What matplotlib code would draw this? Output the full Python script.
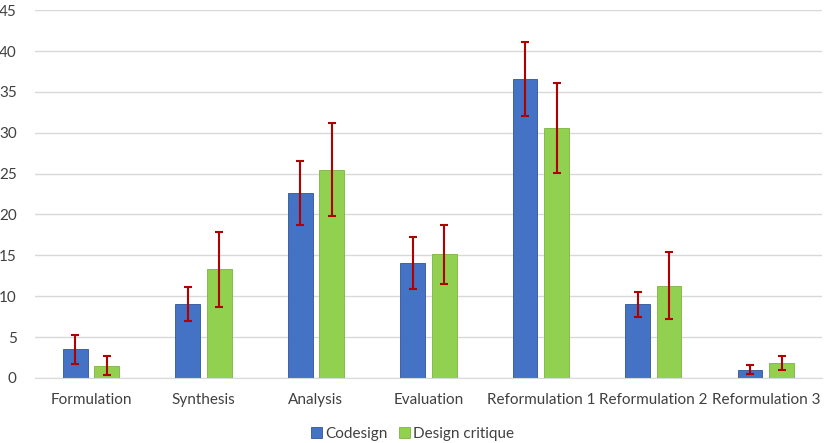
import numpy as np
import matplotlib
matplotlib.use('Agg')
import matplotlib.pyplot as plt

categories = ['Formulation', 'Synthesis', 'Analysis', 'Evaluation',
              'Reformulation 1', 'Reformulation 2', 'Reformulation 3']
codesign = [3.5, 9.0, 22.6, 14.1, 36.6, 9.0, 1.0]
codesign_err = [1.75, 2.1, 3.9, 3.2, 4.5, 1.5, 0.55]
critique = [1.5, 13.3, 25.5, 15.1, 30.6, 11.3, 1.8]
critique_err = [1.2, 4.6, 5.7, 3.6, 5.5, 4.1, 0.85]

plt.rcParams['font.family'] = ['Lato', 'DejaVu Sans']

fig = plt.figure(figsize=(8.27, 4.43), dpi=100)
ax = fig.add_axes([0.042, 0.147, 0.952, 0.83])

x = np.arange(len(categories))
w = 0.22
off = 0.14
err_style = dict(ecolor='#B00000', elinewidth=1.5, capsize=3, capthick=1.5)
ax.bar(x - off, codesign, w, color='#4472C4', edgecolor='#2F5597', linewidth=0.6,
       yerr=codesign_err, error_kw=err_style, label='Codesign', zorder=2)
ax.bar(x + off, critique, w, color='#92D050', edgecolor='#7CB342', linewidth=0.6,
       yerr=critique_err, error_kw=err_style, label='Design critique', zorder=2)

ax.set_xlim(-0.5, 6.5)
ax.set_ylim(0, 45)
ax.set_yticks(range(0, 46, 5))
ax.set_xticks(x)
ax.set_xticklabels(categories)
ax.grid(axis='y', color='#D9D9D9', linewidth=1, zorder=0)
for s in ['top', 'right', 'left']:
    ax.spines[s].set_visible(False)
ax.spines['bottom'].set_color('#D9D9D9')
ax.tick_params(axis='both', length=0, labelsize=11, colors='#404040')
ax.tick_params(axis='x', pad=11)
ax.tick_params(axis='y', pad=13)

ax.legend(loc='upper center', bbox_to_anchor=(0.48, -0.095), ncol=2, frameon=False,
          fontsize=11, handlelength=0.7, handleheight=0.7, handletextpad=0.2,
          columnspacing=0.8, labelcolor='#404040')

fig.savefig('out.png', dpi=100)
